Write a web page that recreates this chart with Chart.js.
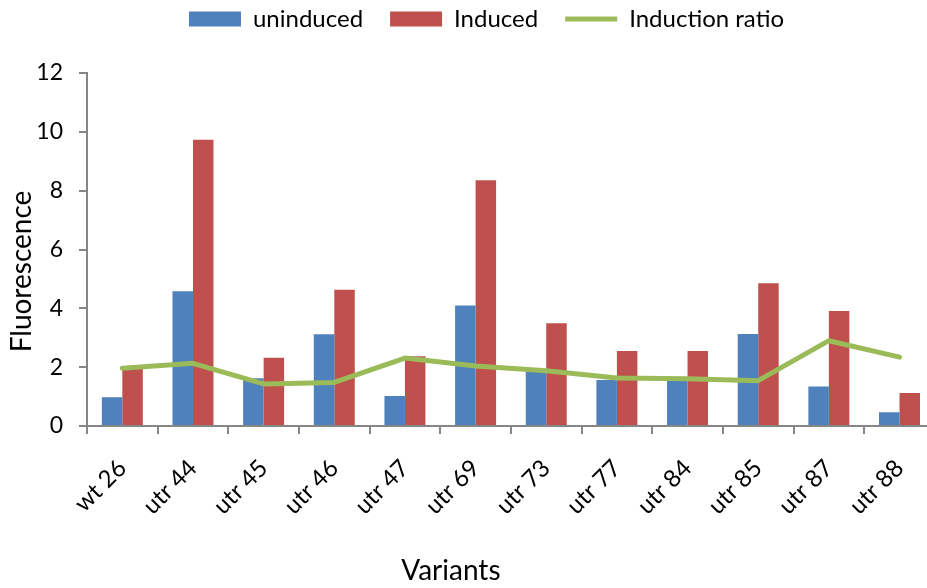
<!DOCTYPE html>
<html>
<head>
<meta charset="utf-8">
<script src="https://cdn.jsdelivr.net/npm/chart.js@4"></script>
<style>
  html, body { margin: 0; padding: 0; overflow: hidden; background: #fff; }
  #wrap { width: 940px; height: 588px; }
</style>
</head>
<body>
<div id="wrap"><canvas id="fluoChart" width="940" height="588"></canvas></div>
<script>
// values
const variants = ['wt 26', 'utr 44', 'utr 45', 'utr 46', 'utr 47', 'utr 69', 'utr 73', 'utr 77', 'utr 84', 'utr 85', 'utr 87', 'utr 88'];
const uninduced = [0.98, 4.58, 1.62, 3.12, 1.02, 4.10, 1.85, 1.56, 1.54, 3.13, 1.34, 0.47];
const induced = [1.94, 9.73, 2.32, 4.63, 2.37, 8.35, 3.49, 2.55, 2.55, 4.85, 3.91, 1.12];
const inductionRatio = [1.96, 2.13, 1.43, 1.48, 2.31, 2.04, 1.88, 1.63, 1.61, 1.54, 2.90, 2.34];
const yTicks = [0, 2, 4, 6, 8, 10, 12];

const FONT = 'Lato, "Open Sans", sans-serif';
const axisGrey = '#868686';

// nudge a scale title by dx/dy (Excel doesn't centre them on the plot area)
function shiftTitle(scale, dx, dy) {
    if (scale._shifted) return;
    const drawTitle = scale.drawTitle;
    scale.drawTitle = function () {
        this.ctx.save();
        this.ctx.translate(dx, dy);
        drawTitle.call(this);
        this.ctx.restore();
    };
    scale._shifted = true;
}

// Excel-like legend placement: fixed legend block height, items near the top edge
const legendTweak = {
    id: 'legendTweak',
    beforeLayout(chart) {
        const lg = chart.legend;
        if (lg && !lg._tweaked) {
            const fit = lg.fit;
            lg.fit = function () {
                fit.call(this);
                this.height = 73;
            };
            lg._tweaked = true;
        }
    },
    afterLayout(chart) {
        const lg = chart.legend;
        lg.top = -20;
        lg.left += 18;
        lg.right += 18;
        shiftTitle(chart.scales.x, -60, 0);
        shiftTitle(chart.scales.y, 0, 22);
    }
};

const data = {
    labels: variants,
    datasets: [
        {
            type: 'line',
            label: 'Induction ratio',
            data: inductionRatio,
            borderColor: '#9BBB59',
            backgroundColor: '#9BBB59',
            borderWidth: 5,
            borderCapStyle: 'round',
            borderJoinStyle: 'round',
            pointRadius: 0,
            pointStyle: 'line',
            tension: 0,
            order: 0
        },
        {
            label: 'uninduced',
            data: uninduced,
            backgroundColor: '#4F81BD',
            pointStyle: 'rect',
            order: 1
        },
        {
            label: 'Induced',
            data: induced,
            backgroundColor: '#C0504D',
            pointStyle: 'rect',
            order: 1
        }
    ]
};

const config = {
    type: 'bar',
    data: data,
    plugins: [legendTweak],
    options: {
        responsive: false,
        animation: false,
        devicePixelRatio: 1,
        layout: { padding: { left: 0, right: 3, top: 0, bottom: 0 } },
        datasets: {
            bar: { categoryPercentage: 0.58, barPercentage: 1.0 }
        },
        plugins: {
            tooltip: { enabled: false },
            legend: {
                position: 'top',
                labels: {
                    usePointStyle: true,
                    pointStyleWidth: 52,
                    boxHeight: 15,
                    padding: 27,
                    color: '#000',
                    font: { family: FONT, size: 24 },
                    sort: (a, b) => {
                        const want = ['uninduced', 'Induced', 'Induction ratio'];
                        return want.indexOf(a.text) - want.indexOf(b.text);
                    }
                }
            }
        },
        scales: {
            y: {
                min: 0,
                max: 12,
                afterBuildTicks: (scale) => { scale.ticks = yTicks.map(v => ({ value: v })); },
                afterFit: (scale) => { scale.width = 87; },
                ticks: {
                    color: '#000',
                    padding: 16,
                    font: { family: FONT, size: 23 }
                },
                grid: {
                    drawOnChartArea: false,
                    tickLength: 8,
                    color: axisGrey,
                    lineWidth: 2
                },
                border: { color: axisGrey, width: 2 },
                title: {
                    display: true,
                    text: 'Fluorescence',
                    color: '#000',
                    padding: { top: 5, bottom: 0 },
                    font: { family: FONT, size: 28 }
                }
            },
            x: {
                afterFit: (scale) => { scale.height = 162; },
                ticks: {
                    color: '#000',
                    minRotation: 45,
                    maxRotation: 45,
                    padding: 20,
                    font: { family: FONT, size: 24 }
                },
                grid: {
                    offset: true,
                    drawOnChartArea: false,
                    tickLength: 8,
                    color: axisGrey,
                    lineWidth: 2
                },
                border: { color: axisGrey, width: 2 },
                title: {
                    display: true,
                    text: 'Variants',
                    color: '#000',
                    padding: { top: 0, bottom: 0 },
                    font: { family: FONT, size: 28 }
                }
            }
        }
    }
};

const fluoChart = new Chart(document.getElementById('fluoChart'), config);
</script>
</body>
</html>
